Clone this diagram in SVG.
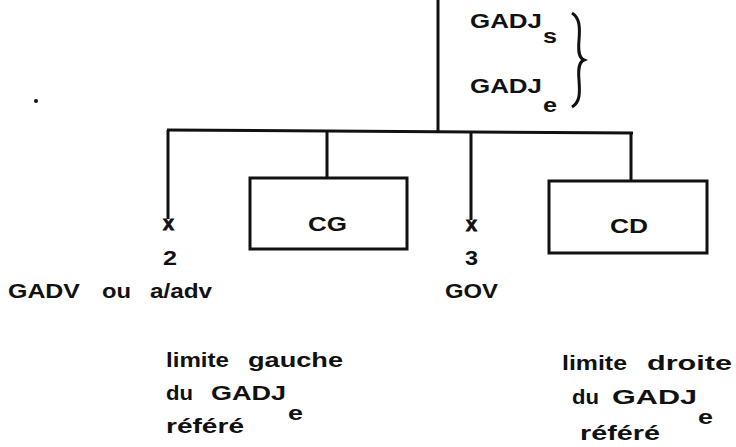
<svg xmlns="http://www.w3.org/2000/svg" width="736" height="447" viewBox="0 0 736 447">
<style>
.t{font-family:"Liberation Sans",Arial,sans-serif;font-weight:bold;font-size:20px;fill:#111}
.l{stroke:#111;stroke-width:3;fill:none}
.b{stroke:#111;stroke-width:3;fill:#fff}
</style>
<rect width="736" height="447" fill="#fff"/>
<g id="connectors">
<line class="l" x1="438" y1="0" x2="438" y2="131"/>
<line class="l" x1="167" y1="130" x2="633" y2="133"/>
<line class="l" x1="168" y1="130" x2="168" y2="219"/>
<line class="l" x1="327" y1="131" x2="327" y2="178"/>
<line class="l" x1="471" y1="132" x2="471" y2="220"/>
<line class="l" x1="631" y1="133" x2="631" y2="181"/>
</g>
<g id="top">
<text class="t" x="470" y="28" textLength="72" lengthAdjust="spacingAndGlyphs">GADJ</text>
<text class="t" x="543" y="43" textLength="14" lengthAdjust="spacingAndGlyphs">s</text>
<text class="t" x="470" y="93" textLength="72" lengthAdjust="spacingAndGlyphs">GADJ</text>
<text class="t" x="543" y="112" textLength="14" lengthAdjust="spacingAndGlyphs">e</text>
<path class="l" stroke-width="2.5" d="M572,13 C580,18 580,28 579,40 C578,52 579,58 584,60 C579,62 578,68 579,80 C580,94 580,102 572,107"/>
</g>
<circle cx="36" cy="101" r="2" fill="#111"/>
<g id="n2">
<text class="t" x="163" y="230" textLength="11" lengthAdjust="spacingAndGlyphs" font-size="19" stroke="#111" stroke-width="0.8">x</text>
<text class="t" x="163" y="265" textLength="14" lengthAdjust="spacingAndGlyphs">2</text>
<text class="t" x="8" y="298" textLength="72" lengthAdjust="spacingAndGlyphs">GADV</text>
<text class="t" x="102" y="298" textLength="29" lengthAdjust="spacingAndGlyphs">ou</text>
<text class="t" x="150" y="298" textLength="62" lengthAdjust="spacingAndGlyphs">a/adv</text>
</g>
<g id="CG">
<rect class="b" x="250" y="178" width="157" height="71"/>
<text class="t" x="308" y="231" textLength="39" lengthAdjust="spacingAndGlyphs">CG</text>
</g>
<g id="n3">
<text class="t" x="466" y="231" textLength="11" lengthAdjust="spacingAndGlyphs" font-size="19" stroke="#111" stroke-width="0.8">x</text>
<text class="t" x="465" y="265" textLength="13" lengthAdjust="spacingAndGlyphs">3</text>
<text class="t" x="445" y="298" textLength="53" lengthAdjust="spacingAndGlyphs">GOV</text>
</g>
<g id="CD">
<rect class="b" x="549" y="181" width="158" height="72"/>
<text class="t" x="610" y="233" textLength="38" lengthAdjust="spacingAndGlyphs">CD</text>
</g>
<g id="left-note">
<text class="t" x="166" y="367" textLength="63" lengthAdjust="spacingAndGlyphs">limite</text>
<text class="t" x="248" y="367" textLength="95" lengthAdjust="spacingAndGlyphs">gauche</text>
<text class="t" x="166" y="400" textLength="27" lengthAdjust="spacingAndGlyphs">du</text>
<text class="t" x="211" y="400" textLength="75" lengthAdjust="spacingAndGlyphs">GADJ</text>
<text class="t" x="288" y="420" textLength="15" lengthAdjust="spacingAndGlyphs">e</text>
<text class="t" x="166" y="433" textLength="78" lengthAdjust="spacingAndGlyphs">référé</text>
</g>
<g id="right-note">
<text class="t" x="562" y="370" textLength="65" lengthAdjust="spacingAndGlyphs">limite</text>
<text class="t" x="647" y="370" textLength="85" lengthAdjust="spacingAndGlyphs">droite</text>
<text class="t" x="572" y="404" textLength="27" lengthAdjust="spacingAndGlyphs">du</text>
<text class="t" x="612" y="404" textLength="85" lengthAdjust="spacingAndGlyphs">GADJ</text>
<text class="t" x="698" y="424" textLength="15" lengthAdjust="spacingAndGlyphs">e</text>
<text class="t" x="580" y="440" textLength="80" lengthAdjust="spacingAndGlyphs">référé</text>
</g>
</svg>
